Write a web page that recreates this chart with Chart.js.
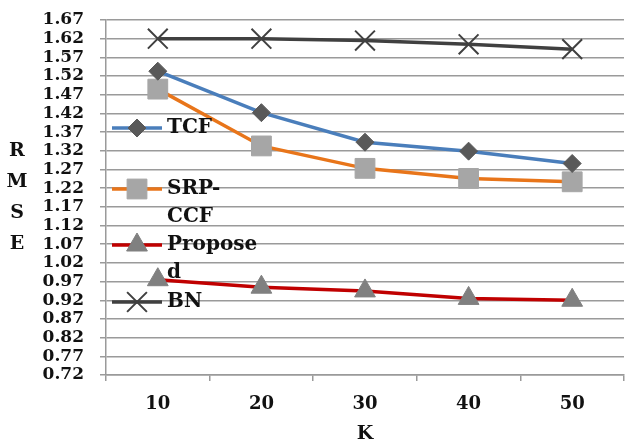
<!DOCTYPE html>
<html>
<head>
<meta charset="utf-8">
<script src="https://cdn.jsdelivr.net/npm/chart.js@4/dist/chart.umd.min.js"></script>
<style>
  html, body { margin: 0; padding: 0; background: #fff; overflow: hidden; }
  canvas { display: block; }
</style>
</head>
<body>
<canvas id="myChart" width="640" height="448"></canvas>
<script>
const kValues = ['10', '20', '30', '40', '50'];
const tcf = [1.533, 1.422, 1.343, 1.319, 1.286];
const srpCcf = [1.485, 1.333, 1.273, 1.246, 1.237];
const proposed = [0.975, 0.955, 0.945, 0.925, 0.92];
const bn = [1.62, 1.62, 1.615, 1.605, 1.592];
const yTicks = [0.72, 0.77, 0.82, 0.87, 0.92, 0.97, 1.02, 1.07, 1.12, 1.17, 1.22,
  1.27, 1.32, 1.37, 1.42, 1.47, 1.52, 1.57, 1.62, 1.67];
const legendLines = [['TCF'], ['SRP-', 'CCF'], ['Propose', 'd'], ['BN']];
const yTitle = ['R', 'M', 'S', 'E'];

const fontFamily = "'DejaVu Serif', 'Liberation Serif', serif";
Chart.defaults.font.family = fontFamily;
Chart.defaults.font.weight = 'bold';
Chart.defaults.font.size = 17;
Chart.defaults.color = '#111';

// legend sits inside the plot, drawn by hand like the excel one
const sideLegend = {
  id: 'sideLegend',
  afterDraw(chart) {
    const ctx = chart.ctx;
    const ys = [128, 189, 245, 302];
    ctx.save();
    chart.data.datasets.forEach(function(ds, i) {
      const y = ys[i];
      ctx.strokeStyle = ds.borderColor;
      ctx.lineWidth = ds.borderWidth;
      ctx.beginPath();
      ctx.moveTo(112, y);
      ctx.lineTo(162, y);
      ctx.stroke();
      ctx.fillStyle = ds.pointBackgroundColor;
      ctx.strokeStyle = ds.pointBorderColor;
      ctx.lineWidth = ds.pointBorderWidth;
      Chart.helpers.drawPoint(ctx, {
        pointStyle: ds.pointStyle, radius: ds.pointRadius, rotation: 0,
        borderWidth: ds.pointBorderWidth
      }, 137, y);
      ctx.fillStyle = '#111';
      ctx.font = 'bold 20px ' + fontFamily;
      ctx.textAlign = 'left';
      ctx.textBaseline = 'middle';
      legendLines[i].forEach(function(t, j) {
        ctx.fillText(t, 167, y + j * 28);
      });
    });
    ctx.font = 'bold 19px ' + fontFamily;
    ctx.textAlign = 'center';
    yTitle.forEach(function(t, j) {
      ctx.fillText(t, 17, 151 + j * 31);
    });
    ctx.restore();
  }
};

const data = {
  labels: kValues,
  datasets: [{
    label: 'TCF',
    data: tcf,
    borderColor: '#4a7ebb',
    borderWidth: 3.5,
    pointStyle: 'rectRot',
    pointRadius: 9,
    pointHoverRadius: 9,
    pointBackgroundColor: '#595959',
    pointBorderColor: '#595959',
    pointBorderWidth: 1
  }, {
    label: 'SRP-CCF',
    data: srpCcf,
    borderColor: '#e8751a',
    borderWidth: 3.5,
    pointStyle: 'rect',
    pointRadius: 14,
    pointHoverRadius: 14,
    pointBackgroundColor: '#a6a6a6',
    pointBorderColor: '#a6a6a6',
    pointBorderWidth: 1
  }, {
    label: 'Proposed',
    data: proposed,
    borderColor: '#c00000',
    borderWidth: 3.5,
    pointStyle: 'triangle',
    pointRadius: 12,
    pointHoverRadius: 12,
    pointBackgroundColor: '#808080',
    pointBorderColor: '#808080',
    pointBorderWidth: 1
  }, {
    label: 'BN',
    data: bn,
    borderColor: '#404040',
    borderWidth: 3.5,
    pointStyle: 'crossRot',
    pointRadius: 14,
    pointHoverRadius: 14,
    pointBackgroundColor: '#404040',
    pointBorderColor: '#404040',
    pointBorderWidth: 2
  }]
};

const config = {
  type: 'line',
  data: data,
  options: {
    responsive: false,
    animation: false,
    layout: { padding: { top: 20, right: 2, left: 0, bottom: 0 } },
    plugins: {
      legend: { display: false },
      tooltip: { enabled: false }
    },
    scales: {
      x: {
        offset: true,
        grid: { offset: true, drawOnChartArea: false, tickLength: 6, color: '#9a9a9a', lineWidth: 1.5 },
        border: { display: true, color: '#9a9a9a', width: 1.5 },
        ticks: { padding: 13, font: { size: 18 } },
        title: { display: true, text: 'K', font: { size: 19 }, padding: { top: 0, bottom: 3 } },
        afterFit(scale) { scale.height = 73; }
      },
      y: {
        min: 0.72,
        max: 1.67,
        afterBuildTicks(scale) { scale.ticks = yTicks.map(v => ({ value: v })); },
        afterFit(scale) {
          scale.width = 106;
          scale.paddingTop = 0;
          scale.paddingBottom = 0;
        },
        grid: { tickLength: 6, color: '#9a9a9a', lineWidth: 1.5 },
        border: { display: true, color: '#9a9a9a', width: 1.5 },
        ticks: {
          padding: 16,
          font: { size: 17 },
          autoSkip: false,
          callback: v => v.toFixed(2)
        }
      }
    }
  },
  plugins: [sideLegend]
};

var myChart = new Chart(document.getElementById('myChart'), config);
</script>
</body>
</html>
